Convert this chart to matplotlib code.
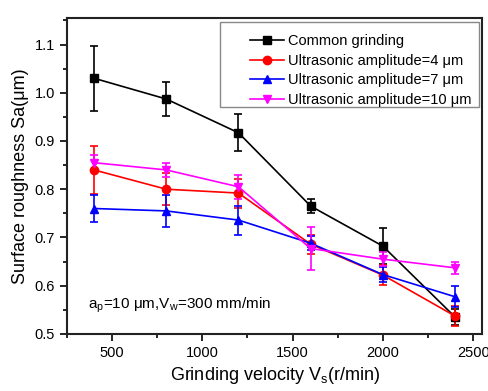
import matplotlib
matplotlib.use("Agg")
import matplotlib.pyplot as plt
from matplotlib.ticker import MultipleLocator
from matplotlib.lines import Line2D
from matplotlib.patches import Rectangle

plt.rcParams['font.family'] = ['Liberation Sans', 'DejaVu Sans']

# Data
velocity = [400, 800, 1200, 1600, 2000, 2400]

common = [1.030, 0.987, 0.917, 0.765, 0.682, 0.535]
common_err = [0.067, 0.035, 0.038, 0.015, 0.038, 0.017]

amp4 = [0.840, 0.800, 0.792, 0.686, 0.622, 0.537]
amp4_err = [0.050, 0.033, 0.030, 0.020, 0.020, 0.020]

amp7 = [0.760, 0.755, 0.736, 0.688, 0.623, 0.577]
amp7_err = [0.027, 0.033, 0.030, 0.015, 0.015, 0.022]

amp10 = [0.855, 0.840, 0.805, 0.677, 0.655, 0.637]
amp10_err = [0.015, 0.015, 0.025, 0.045, 0.015, 0.013]

labels = ["Common grinding",
          "Ultrasonic amplitude=4 \u03bcm",
          "Ultrasonic amplitude=7 \u03bcm",
          "Ultrasonic amplitude=10 \u03bcm"]

fig = plt.figure(figsize=(4.89, 3.91), dpi=100)
ax = fig.add_axes([0.137, 0.146, 0.849, 0.808])

series = [
    (common, common_err, 'black', 's'),
    (amp4, amp4_err, 'red', 'o'),
    (amp7, amp7_err, 'blue', '^'),
    (amp10, amp10_err, 'magenta', 'v'),
]
handles = []
for (y, err, c, m), lab in zip(series, labels):
    ax.errorbar(velocity, y, yerr=err, color=c, marker=m, markersize=6,
                linewidth=1.2, elinewidth=1.2, capsize=3, capthick=1.2)
    handles.append(Line2D([], [], color=c, marker=m, markersize=6,
                          linewidth=1.2, label=lab))

ax.set_xlim(250, 2550)
ax.set_ylim(0.5, 1.155)
ax.xaxis.set_major_locator(MultipleLocator(500))
ax.xaxis.set_minor_locator(MultipleLocator(250))
ax.yaxis.set_major_locator(MultipleLocator(0.1))
ax.yaxis.set_minor_locator(MultipleLocator(0.05))
ax.tick_params(which='both', direction='out', top=False, right=False,
               labelsize=10.5, width=1.2)
ax.tick_params(which='major', length=5)
ax.tick_params(which='minor', length=3)
for s in ax.spines.values():
    s.set_linewidth(1.5)
    s.set_color('#222222')

ax.set_xlabel("Grinding velocity V$_\\mathregular{s}$(r/min)", fontsize=13)
ax.set_ylabel("Surface roughness Sa(\u03bcm)", fontsize=13)

ax.text(0.05, 0.092, "a$_\\mathregular{p}$=10 \u03bcm,V$_\\mathregular{w}$=300 mm/min",
        transform=ax.transAxes, fontsize=11, va='center')

# legend box (frame drawn separately, wider on the left like the original)
ax.add_patch(Rectangle((0.369, 0.718), 0.624, 0.269, transform=ax.transAxes,
                       facecolor='white', edgecolor='#888888', linewidth=1.0,
                       zorder=4))
leg = ax.legend(handles=handles, loc='upper left', fontsize=10.5, frameon=False,
                handlelength=2.3, handletextpad=0.3, borderpad=0,
                labelspacing=0.40, borderaxespad=0,
                bbox_to_anchor=(0.441, 0.950))
leg.set_zorder(5)

fig.savefig("out.png", dpi=100)
